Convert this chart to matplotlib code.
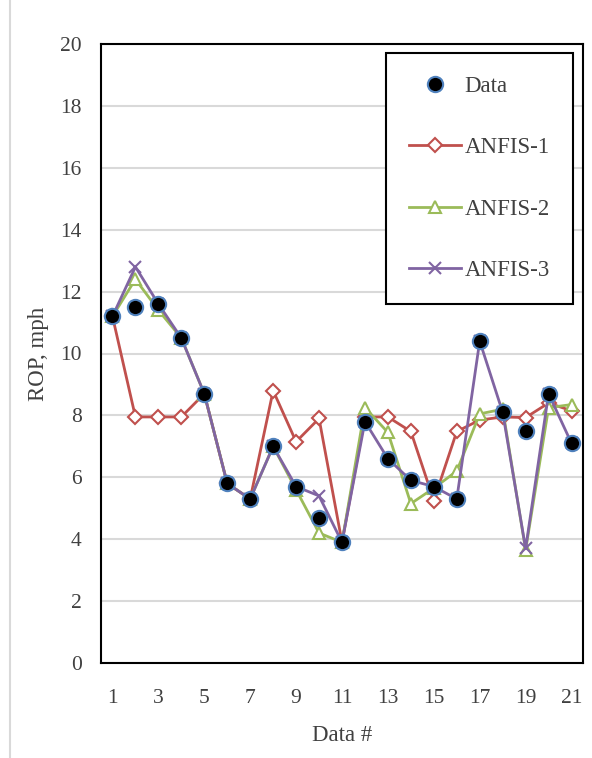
import matplotlib
matplotlib.use("Agg")
import matplotlib.pyplot as plt
from matplotlib.lines import Line2D

data_idx = list(range(1, 22))
data_vals = [11.2, 11.5, 11.6, 10.5, 8.7, 5.8, 5.3, 7.0, 5.7, 4.7, 3.9,
             7.8, 6.6, 5.9, 5.7, 5.3, 10.4, 8.1, 7.5, 8.7, 7.1]
anfis1 = [11.2, 7.95, 7.95, 7.95, 8.7, 5.8, 5.3, 8.8, 7.15, 7.9, 3.9,
          7.95, 7.95, 7.48, 5.25, 7.48, 7.85, 7.95, 7.93, 8.4, 8.15]
anfis2 = [11.2, 12.4, 11.4, 10.5, 8.7, 5.8, 5.3, 7.0, 5.6, 4.2, 3.9,
          8.25, 7.45, 5.15, 5.65, 6.2, 8.05, 8.2, 3.65, 8.25, 8.35]
anfis3 = [11.2, 12.8, 11.6, 10.5, 8.7, 5.8, 5.3, 7.0, 5.7, 5.4, 3.9,
          7.8, 6.6, 5.9, 5.7, 5.3, 10.4, 8.1, 3.7, 8.7, 7.1]

x_ticks = list(range(1, 22, 2))
y_ticks = list(range(0, 21, 2))

plt.rcParams['font.family'] = ['Liberation Serif', 'DejaVu Serif']

red = '#C0504D'
green = '#9BBB59'
purple = '#8064A2'
blue = '#4F81BD'

fig = plt.figure(figsize=(5.92, 7.58), dpi=100)
ax = fig.add_axes([101 / 592, 1 - 663 / 758, 482 / 592, 619 / 758])

ax.plot(data_idx, anfis1, color=red, lw=2, marker='D', ms=7, mfc='white',
        mec=red, mew=1.5, label='ANFIS-1', zorder=3)
ax.plot(data_idx, anfis2, color=green, lw=2, marker='^', ms=9, mfc='white',
        mec=green, mew=1.5, label='ANFIS-2', zorder=4)
ax.plot(data_idx, anfis3, color=purple, lw=2, marker='x', ms=9,
        mec=purple, mew=1.5, label='ANFIS-3', zorder=5)
ax.plot(data_idx, data_vals, ls='none', marker='o', ms=11, mfc='black',
        mec=blue, mew=1.5, label='Data', zorder=6)

ax.set_xlim(0.5, 21.5)
ax.set_ylim(0, 20)
ax.set_xticks(x_ticks)
ax.set_yticks(y_ticks)
ax.tick_params(length=0, labelsize=15.5, colors='#404040')
ax.tick_params(axis='y', pad=14)
ax.tick_params(axis='x', pad=19)
ax.yaxis.grid(True, color='#d9d9d9', lw=1.5)
ax.set_axisbelow(True)
for s in ax.spines.values():
    s.set_color('black')
    s.set_linewidth(1.5)

ax.set_xlabel('Data #', fontsize=16.5, color='#404040', labelpad=12)
ax.set_ylabel('ROP, mph', fontsize=16.5, color='#404040', labelpad=8)

handles = [
    Line2D([], [], ls='none', marker='o', ms=11, mfc='black', mec=blue, mew=1.5),
    Line2D([], [], color=red, lw=2, marker='D', ms=7, mfc='white', mec=red, mew=1.5),
    Line2D([], [], color=green, lw=2, marker='^', ms=9, mfc='white', mec=green, mew=1.5),
    Line2D([], [], color=purple, lw=2, marker='x', ms=9, mec=purple, mew=1.5),
]
leg = ax.legend(handles, ['Data', 'ANFIS-1', 'ANFIS-2', 'ANFIS-3'],
                loc='upper right', bbox_to_anchor=(0.979, 0.985),
                fontsize=16.5, labelspacing=1.75, handlelength=2.3,
                handletextpad=0.15, borderpad=1.0, borderaxespad=0,
                fancybox=False, edgecolor='black', framealpha=1)
leg.get_frame().set_linewidth(1.5)
for t in leg.get_texts():
    t.set_color('#404040')

fig.add_artist(Line2D([10 / 592, 10 / 592], [0, 1], color='#d9d9d9', lw=1.5))

fig.savefig('out.png', dpi=100)
